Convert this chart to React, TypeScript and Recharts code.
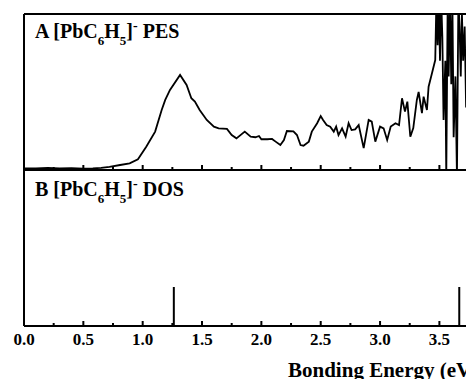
import React from 'react';
import { ComposedChart, Line, Bar, XAxis, YAxis } from 'recharts';

const FONT = '"Liberation Serif", "Times New Roman", serif';

const xTicks = [0, 0.25, 0.5, 0.75, 1, 1.25, 1.5, 1.75, 2, 2.25, 2.5, 2.75, 3, 3.25, 3.5, 3.75];

const pesEnergy = [
  0.0, 0.1, 0.2, 0.3, 0.4, 0.5, 0.58, 0.65, 0.72, 0.81, 0.89, 0.96, 1.03, 1.105, 1.16, 1.19, 1.23,
  1.315, 1.37, 1.41, 1.44, 1.48, 1.54, 1.6, 1.64, 1.71, 1.75, 1.79, 1.86, 1.91, 1.95, 1.98, 2.0,
  2.05, 2.09, 2.12, 2.16, 2.19, 2.215, 2.27, 2.3, 2.33, 2.355, 2.4, 2.425, 2.47, 2.5, 2.52, 2.55,
  2.58, 2.61, 2.63, 2.65, 2.68, 2.71, 2.735, 2.76, 2.79, 2.82, 2.862, 2.904, 2.93, 2.96, 3.0, 3.03,
  3.06, 3.09, 3.13, 3.16, 3.185, 3.21, 3.23, 3.255, 3.28, 3.31, 3.325, 3.353, 3.367, 3.395, 3.409,
  3.438, 3.465, 3.475, 3.485, 3.495, 3.505, 3.515, 3.525, 3.535, 3.55, 3.558, 3.57, 3.578, 3.59,
  3.6, 3.61, 3.62, 3.635, 3.648, 3.66, 3.67, 3.68, 3.69, 3.7, 3.713, 3.725, 3.735, 3.75, 3.76,
];
const pesIntensity = [
  1.0, 1.0, 1.3, 1.0, 1.2, 0.9, 1.0, 1.4, 2.0, 3.2, 4.3, 6.9, 14.9, 24.6, 38.5, 44.9, 51.3,
  60.9, 54.5, 46.0, 43.8, 38.5, 32.1, 27.8, 26.7, 26.3, 22.4, 20.3, 24.6, 21.4, 21.0, 21.8, 19.7,
  19.7, 19.9, 18.2, 16.0, 19.2, 25.0, 24.8, 22.4, 16.0, 15.6, 18.2, 24.6, 30.0, 34.6, 32.1, 28.8,
  27.8, 24.6, 27.8, 22.4, 26.7, 21.4, 30.0, 25.6, 26.0, 28.8, 14.0, 32.1, 31.0, 18.2, 27.8, 26.7,
  19.2, 27.8, 30.0, 28.8, 46.0, 37.4, 43.8, 21.3, 26.9, 44.9, 50.0, 36.5, 47.0, 38.5, 53.4,
  62.2, 70.5, 110, 80, 110, 70, 110, 85, 32, 70, -5, 110, 60, 110,
  55, 105, 21, 60, -5, 110, 92, 60, 100, 70, 92, 40, 100, 50, 110,
];

const dosEnergy = [1.26, 3.665];
const dosIntensity = [25, 25];

const pesData = pesEnergy.map((e, i) => ({ e, v: pesIntensity[i] }));
const dosData = dosEnergy.map((e, i) => ({ e, v: dosIntensity[i] }));

const X_DOMAIN: [number, number] = [0, 3.8];
const CHART_W = 520;
const MARGIN_L = 23;
const MARGIN_R = 45;

const isMajor = (v: number) => Math.abs(v * 2 - Math.round(v * 2)) < 1e-6;

const makeTick = (showLabel: boolean) => (props: any) => {
  const { x, y, payload } = props;
  const major = isMajor(payload.value);
  return (
    <g>
      <line x1={x} x2={x} y1={y} y2={y - (major ? 5 : 3)} stroke="#000" strokeWidth={2} />
      {showLabel && major && (
        <text x={x} y={y + 19} textAnchor="middle" fontFamily={FONT} fontWeight="bold" fontSize={17} fill="#000">
          {payload.value.toFixed(1)}
        </text>
      )}
    </g>
  );
};

const Title = ({ letter, kind, y }: { letter: string; kind: string; y: number }) => (
  <text x={35} y={y} fontFamily={FONT} fontWeight="bold" fontSize={20} fill="#000">
    {letter + ' [PbC'}
    <tspan fontSize={13} dy={7}>6</tspan>
    <tspan dy={-7}>H</tspan>
    <tspan fontSize={13} dy={7}>5</tspan>
    <tspan dy={-7}>]</tspan>
    <tspan fontSize={14} dy={-8}>-</tspan>
    <tspan dy={8}>{' ' + kind}</tspan>
  </text>
);

const AXIS_LINE = { stroke: '#000', strokeWidth: 2 };

export default function App() {
  return (
    <div
      style={{
        position: 'fixed',
        left: 0,
        top: 0,
        width: 466,
        height: 379,
        overflow: 'hidden',
        background: '#fff',
      }}
    >
      <div style={{ position: 'absolute', left: 0, top: 0 }}>
        <ComposedChart
          width={CHART_W}
          height={190}
          data={pesData}
          margin={{ top: 0, right: MARGIN_R, left: MARGIN_L, bottom: 0 }}
        >
          <XAxis
            xAxisId="top"
            orientation="top"
            dataKey="e"
            type="number"
            domain={X_DOMAIN}
            height={14}
            tick={false}
            tickLine={false}
            axisLine={AXIS_LINE}
            allowDataOverflow
          />
          <XAxis
            xAxisId="bottom"
            dataKey="e"
            type="number"
            domain={X_DOMAIN}
            ticks={xTicks}
            height={20}
            tickSize={0}
            tickMargin={0}
            tickLine={false}
            tick={makeTick(false)}
            axisLine={AXIS_LINE}
            allowDataOverflow
          />
          <YAxis
            type="number"
            domain={[0, 100]}
            width={1}
            tick={false}
            tickLine={false}
            axisLine={AXIS_LINE}
            allowDataOverflow
          />
          <Line
            xAxisId="bottom"
            type="linear"
            dataKey="v"
            stroke="#000"
            strokeWidth={1.8}
            dot={false}
            isAnimationActive={false}
          />
          <Title letter="A" kind="PES" y={38} />
        </ComposedChart>
      </div>
      <div style={{ position: 'absolute', left: 0, top: 170 }}>
        <ComposedChart
          width={CHART_W}
          height={209}
          data={dosData}
          margin={{ top: 0, right: MARGIN_R, left: MARGIN_L, bottom: 0 }}
        >
          <XAxis
            dataKey="e"
            type="number"
            domain={X_DOMAIN}
            ticks={xTicks}
            height={53}
            tickSize={0}
            tickMargin={0}
            tickLine={false}
            tick={makeTick(true)}
            axisLine={AXIS_LINE}
            allowDataOverflow
            label={{
              content: () => (
                <text x={288} y={207} fontFamily={FONT} fontWeight="bold" fontSize={21} fill="#000">
                  Bonding Energy (eV)
                </text>
              ),
            }}
          />
          <YAxis
            type="number"
            domain={[0, 100]}
            width={1}
            tick={false}
            tickLine={false}
            axisLine={AXIS_LINE}
            allowDataOverflow
          />
          <Bar dataKey="v" fill="#000" barSize={2} isAnimationActive={false} />
          <Title letter="B" kind="DOS" y={26} />
        </ComposedChart>
      </div>
    </div>
  );
}
